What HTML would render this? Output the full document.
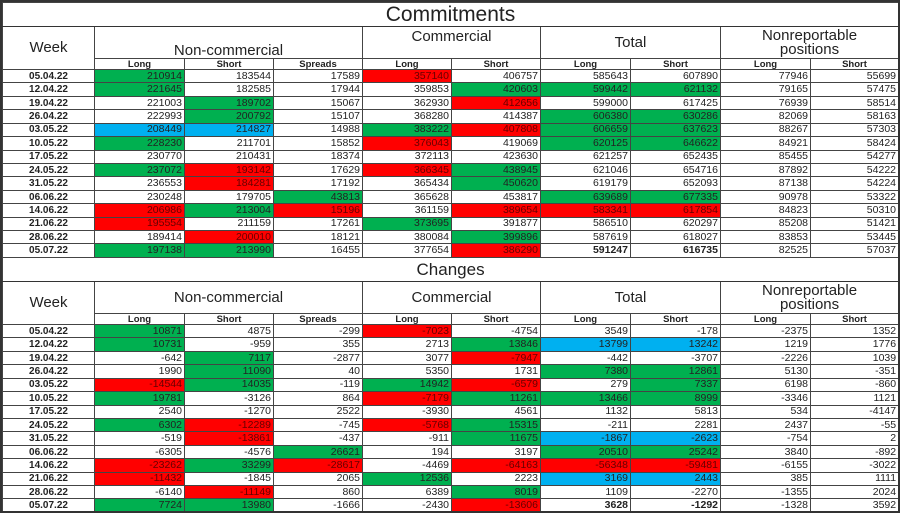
<!DOCTYPE html>
<html><head><meta charset="utf-8"><style>
body{margin:0;width:900px;height:513px;background:#fff;overflow:hidden;font-family:"Liberation Sans",sans-serif;}
.wrap{position:absolute;left:0;top:0;width:896px;height:509px;border:2px solid #333;overflow:hidden;}
table{position:absolute;left:0;border-collapse:collapse;table-layout:fixed;width:896px;}
td{border:1px solid #444;padding:0 2px;overflow:hidden;white-space:nowrap;font-size:10.5px;color:#222;text-align:right;line-height:11px;vertical-align:middle;}
td.w{text-align:center;font-weight:bold;font-size:10px;}
tr.t td{font-size:21px;text-align:center;border-bottom:1.5px solid #333;line-height:20px;}
tr.h td{font-size:15px;text-align:center;line-height:14px;}
tr.s td{font-size:9.5px;font-weight:bold;text-align:center;line-height:9px;}
.g{background:#00b050;}.r{background:#ff0000;color:#600;}.b{background:#00b0f0;}
.bd{font-weight:bold;}
tr.d{height:13.43px;}
</style></head><body><div class="wrap">
<table style="top:0">
<colgroup><col style="width:92px"><col style="width:90px"><col style="width:89px"><col style="width:89px"><col style="width:89px"><col style="width:89px"><col style="width:90px"><col style="width:90px"><col style="width:90px"><col style="width:88px"></colgroup>
<tr class="t" style="height:24px"><td colspan="10">Commitments</td></tr>
<tr class="h" style="height:32px"><td rowspan="2" style="vertical-align:middle">Week</td><td colspan="3" style="vertical-align:bottom">Non-commercial</td><td colspan="2" style="vertical-align:top;padding-top:3px">Commercial</td><td colspan="2">Total</td><td colspan="2">Nonreportable<br>positions</td></tr>
<tr class="s" style="height:11px"><td>Long</td><td>Short</td><td>Spreads</td><td>Long</td><td>Short</td><td>Long</td><td>Short</td><td>Long</td><td>Short</td></tr>
<tr class="d"><td class="w">05.04.22</td><td class="g">210914</td><td>183544</td><td>17589</td><td class="r">357140</td><td>406757</td><td>585643</td><td>607890</td><td>77946</td><td>55699</td></tr>
<tr class="d"><td class="w">12.04.22</td><td class="g">221645</td><td>182585</td><td>17944</td><td>359853</td><td class="g">420603</td><td class="g">599442</td><td class="g">621132</td><td>79165</td><td>57475</td></tr>
<tr class="d"><td class="w">19.04.22</td><td>221003</td><td class="g">189702</td><td>15067</td><td>362930</td><td class="r">412656</td><td>599000</td><td>617425</td><td>76939</td><td>58514</td></tr>
<tr class="d"><td class="w">26.04.22</td><td>222993</td><td class="g">200792</td><td>15107</td><td>368280</td><td>414387</td><td class="g">606380</td><td class="g">630286</td><td>82069</td><td>58163</td></tr>
<tr class="d"><td class="w">03.05.22</td><td class="b">208449</td><td class="b">214827</td><td>14988</td><td class="g">383222</td><td class="r">407808</td><td class="g">606659</td><td class="g">637623</td><td>88267</td><td>57303</td></tr>
<tr class="d"><td class="w">10.05.22</td><td class="g">228230</td><td>211701</td><td>15852</td><td class="r">376043</td><td>419069</td><td class="g">620125</td><td class="g">646622</td><td>84921</td><td>58424</td></tr>
<tr class="d"><td class="w">17.05.22</td><td>230770</td><td>210431</td><td>18374</td><td>372113</td><td>423630</td><td>621257</td><td>652435</td><td>85455</td><td>54277</td></tr>
<tr class="d"><td class="w">24.05.22</td><td class="g">237072</td><td class="r">193142</td><td>17629</td><td class="r">366345</td><td class="g">438945</td><td>621046</td><td>654716</td><td>87892</td><td>54222</td></tr>
<tr class="d"><td class="w">31.05.22</td><td>236553</td><td class="r">184281</td><td>17192</td><td>365434</td><td class="g">450620</td><td>619179</td><td>652093</td><td>87138</td><td>54224</td></tr>
<tr class="d"><td class="w">06.06.22</td><td>230248</td><td>179705</td><td class="g">43813</td><td>365628</td><td>453817</td><td class="g">639689</td><td class="g">677335</td><td>90978</td><td>53322</td></tr>
<tr class="d"><td class="w">14.06.22</td><td class="r">206986</td><td class="g">213004</td><td class="r">15196</td><td>361159</td><td class="r">389654</td><td class="r">583341</td><td class="r">617854</td><td>84823</td><td>50310</td></tr>
<tr class="d"><td class="w">21.06.22</td><td class="r">195554</td><td>211159</td><td>17261</td><td class="g">373695</td><td>391877</td><td>586510</td><td>620297</td><td>85208</td><td>51421</td></tr>
<tr class="d"><td class="w">28.06.22</td><td>189414</td><td class="r">200010</td><td>18121</td><td>380084</td><td class="g">399896</td><td>587619</td><td>618027</td><td>83853</td><td>53445</td></tr>
<tr class="d"><td class="w">05.07.22</td><td class="g">197138</td><td class="g">213990</td><td>16455</td><td>377654</td><td class="r">386290</td><td class="bd">591247</td><td class="bd">616735</td><td>82525</td><td>57037</td></tr>
</table>
<table style="top:255px">
<colgroup><col style="width:92px"><col style="width:90px"><col style="width:89px"><col style="width:89px"><col style="width:89px"><col style="width:89px"><col style="width:90px"><col style="width:90px"><col style="width:90px"><col style="width:88px"></colgroup>
<tr class="t" style="height:24px"><td colspan="10" style="font-size:17px">Changes</td></tr>
<tr class="h" style="height:32px"><td rowspan="2" style="vertical-align:middle">Week</td><td colspan="3">Non-commercial</td><td colspan="2">Commercial</td><td colspan="2">Total</td><td colspan="2">Nonreportable<br>positions</td></tr>
<tr class="s" style="height:11px"><td>Long</td><td>Short</td><td>Spreads</td><td>Long</td><td>Short</td><td>Long</td><td>Short</td><td>Long</td><td>Short</td></tr>
<tr class="d"><td class="w">05.04.22</td><td class="g">10871</td><td>4875</td><td>-299</td><td class="r">-7023</td><td>-4754</td><td>3549</td><td>-178</td><td>-2375</td><td>1352</td></tr>
<tr class="d"><td class="w">12.04.22</td><td class="g">10731</td><td>-959</td><td>355</td><td>2713</td><td class="g">13846</td><td class="b">13799</td><td class="b">13242</td><td>1219</td><td>1776</td></tr>
<tr class="d"><td class="w">19.04.22</td><td>-642</td><td class="g">7117</td><td>-2877</td><td>3077</td><td class="r">-7947</td><td>-442</td><td>-3707</td><td>-2226</td><td>1039</td></tr>
<tr class="d"><td class="w">26.04.22</td><td>1990</td><td class="g">11090</td><td>40</td><td>5350</td><td>1731</td><td class="g">7380</td><td class="g">12861</td><td>5130</td><td>-351</td></tr>
<tr class="d"><td class="w">03.05.22</td><td class="r">-14544</td><td class="g">14035</td><td>-119</td><td class="g">14942</td><td class="r">-6579</td><td>279</td><td class="g">7337</td><td>6198</td><td>-860</td></tr>
<tr class="d"><td class="w">10.05.22</td><td class="g">19781</td><td>-3126</td><td>864</td><td class="r">-7179</td><td class="g">11261</td><td class="g">13466</td><td class="g">8999</td><td>-3346</td><td>1121</td></tr>
<tr class="d"><td class="w">17.05.22</td><td>2540</td><td>-1270</td><td>2522</td><td>-3930</td><td>4561</td><td>1132</td><td>5813</td><td>534</td><td>-4147</td></tr>
<tr class="d"><td class="w">24.05.22</td><td class="g">6302</td><td class="r">-12289</td><td>-745</td><td class="r">-5768</td><td class="g">15315</td><td>-211</td><td>2281</td><td>2437</td><td>-55</td></tr>
<tr class="d"><td class="w">31.05.22</td><td>-519</td><td class="r">-13861</td><td>-437</td><td>-911</td><td class="g">11675</td><td class="b">-1867</td><td class="b">-2623</td><td>-754</td><td>2</td></tr>
<tr class="d"><td class="w">06.06.22</td><td>-6305</td><td>-4576</td><td class="g">26621</td><td>194</td><td>3197</td><td class="g">20510</td><td class="g">25242</td><td>3840</td><td>-892</td></tr>
<tr class="d"><td class="w">14.06.22</td><td class="r">-23262</td><td class="g">33299</td><td class="r">-28617</td><td>-4469</td><td class="r">-64163</td><td class="r">-56348</td><td class="r">-59481</td><td>-6155</td><td>-3022</td></tr>
<tr class="d"><td class="w">21.06.22</td><td class="r">-11432</td><td>-1845</td><td>2065</td><td class="g">12536</td><td>2223</td><td class="b">3169</td><td class="b">2443</td><td>385</td><td>1111</td></tr>
<tr class="d"><td class="w">28.06.22</td><td>-6140</td><td class="r">-11149</td><td>860</td><td>6389</td><td class="g">8019</td><td>1109</td><td>-2270</td><td>-1355</td><td>2024</td></tr>
<tr class="d"><td class="w">05.07.22</td><td class="g">7724</td><td class="g">13980</td><td>-1666</td><td>-2430</td><td class="r">-13606</td><td class="bd">3628</td><td class="bd">-1292</td><td>-1328</td><td>3592</td></tr>
</table>
</div></body></html>
